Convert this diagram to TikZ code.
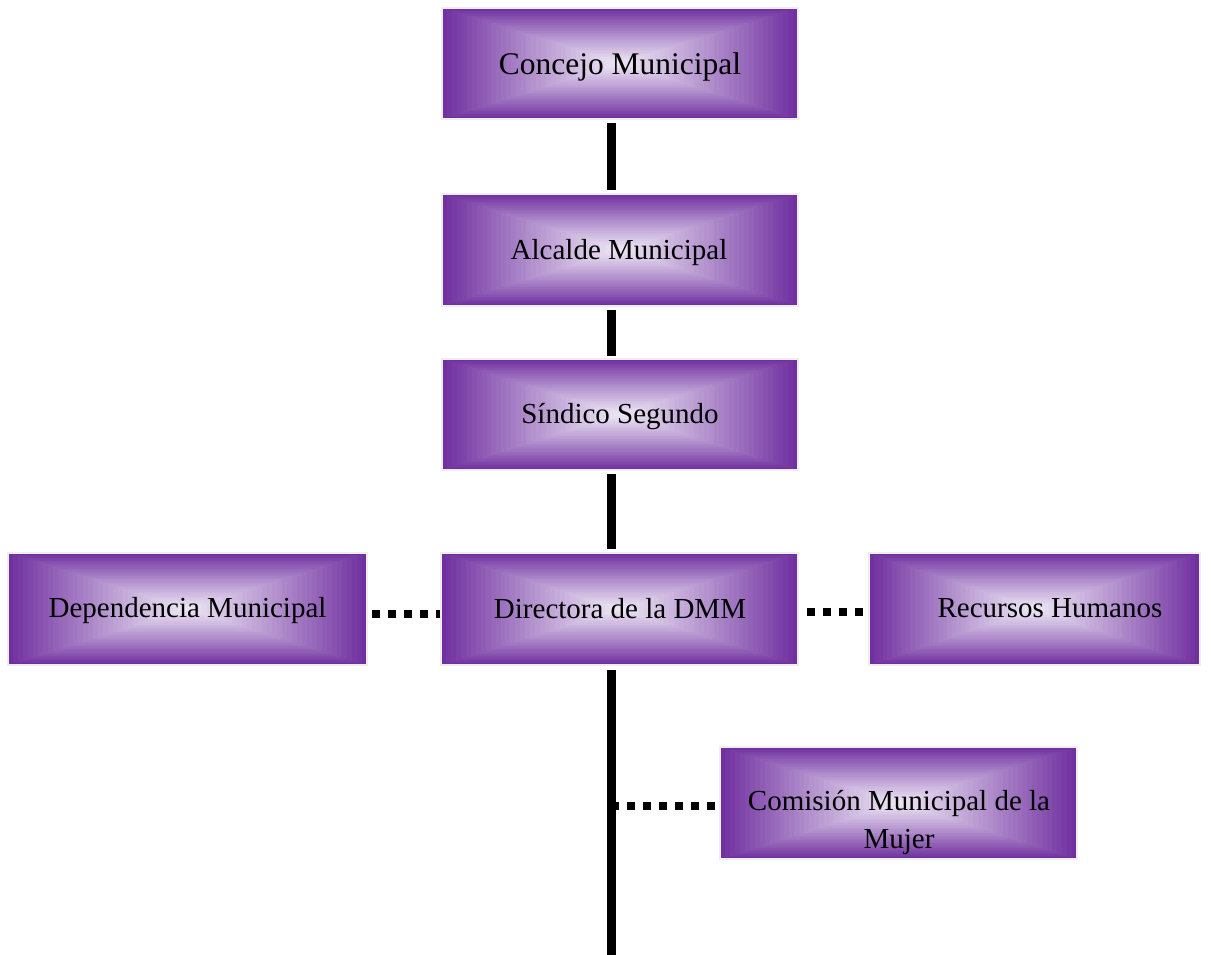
\documentclass[tikz,border=0pt]{standalone}
\usepackage{fontspec}
\setmainfont{Liberation Serif}
\definecolor{dmmpurple}{RGB}{112,48,160}
\definecolor{dmmlight}{RGB}{238,231,245}
\definecolor{boxedge}{RGB}{238,238,238}

\tikzset{
  orgbox/.style={draw=boxedge, line width=1.2pt, inner sep=0pt},
  orgtext/.style={inner sep=0pt, anchor=base, font=\fontsize{29}{38}\selectfont, align=center},
  solidlink/.style={line width=8.5pt},
  dotlink/.style={line width=8pt, dash pattern=on 8pt off 8pt}
}

% Box with a rectangular centre-out gradient: #1 name, #2 left, #3 top, #4 right, #5 bottom
\newcommand\gradbox[5]{%
  \foreach \k in {0,...,35}{%
    \pgfmathsetmacro\tt{\k/36}%
    \pgfmathsetmacro\pp{100*(1-\tt)^1.1}%
    \fill[dmmpurple!\pp!dmmlight]
      ({#2+(#4-#2)*\tt/2},{#3+(#5-#3)*\tt/2}) rectangle
      ({#4-(#4-#2)*\tt/2},{#5-(#5-#3)*\tt/2});
  }%
  \node[orgbox, minimum width={(#4-#2)*1pt}, minimum height={(#5-#3)*1pt}]
    (#1) at ({(#2+#4)/2},{(#3+#5)/2}) {};
}

\begin{document}
\begin{tikzpicture}[x=1pt, y=-1pt]
\useasboundingbox (0,0) rectangle (1211,955);

% boxes
\gradbox{concejo}{442}{8}{798}{119}
\gradbox{alcalde}{442}{194}{798}{306}
\gradbox{sindico}{442}{359}{798}{470}
\gradbox{directora}{441}{553}{798}{665}
\gradbox{dependencia}{8}{553}{367}{665}
\gradbox{recursos}{869}{553}{1200}{665}
\gradbox{comision}{720}{747}{1077}{859}

% labels
\node[orgtext, font=\fontsize{31.5}{38}\selectfont] (concejo-t) at (620,75) {Concejo Municipal};
\node[orgtext] (alcalde-t) at (619,259) {Alcalde Municipal};
\node[orgtext] (sindico-t) at (620,423) {Síndico Segundo};
\node[orgtext] (directora-t) at (620,618) {Directora de la DMM};
\node[orgtext] (dependencia-t) at (187.5,617) {Dependencia Municipal};
\node[orgtext] (recursos-t) at (1050,617) {Recursos Humanos};
\node[orgtext] (comision-t) at (899,848) {Comisión Municipal de la\\Mujer};

% solid chain of command
\coordinate (trunkend) at (611.5,955);
\coordinate (tapcomision) at (612,806);
\draw[solidlink] ([xshift=-8.5pt, yshift=-3pt]concejo.south) -- ([xshift=-8.5pt, yshift=3pt]alcalde.north);
\draw[solidlink] ([xshift=-8.5pt, yshift=-3pt]alcalde.south) -- ([xshift=-8.5pt, yshift=2pt]sindico.north);
\draw[solidlink] ([xshift=-8.5pt, yshift=-3pt]sindico.south) -- ([xshift=-8pt, yshift=3pt]directora.north);
\draw[solidlink] ([xshift=-8pt, yshift=-4pt]directora.south) -- (trunkend);

% dotted coordination links
\draw[dotlink, dash phase=4pt] ([yshift=-5pt]directora.west) -- ([yshift=-5pt]dependencia.east);
\draw[dotlink, dash phase=8pt] ([yshift=-2.5pt]directora.east) -- ([yshift=-2.5pt]recursos.west);
\draw[dotlink, dash phase=12pt] ([yshift=-3pt]comision.west) -- (tapcomision);
\end{tikzpicture}
\end{document}
